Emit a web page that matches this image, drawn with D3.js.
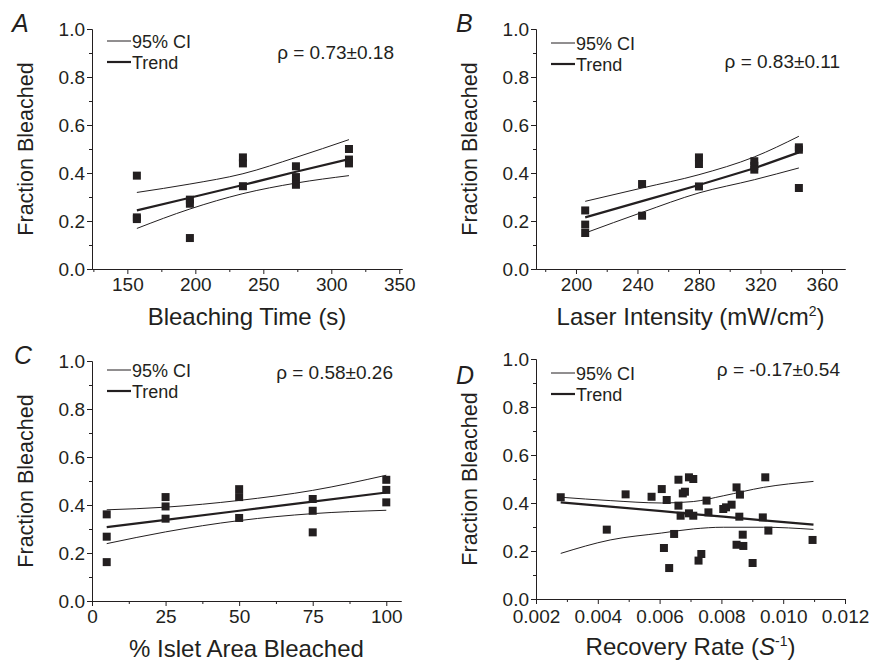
<!DOCTYPE html>
<html>
<head>
<meta charset="utf-8">
<script src="https://cdn.jsdelivr.net/npm/d3@7"></script>
<style>
  body { margin: 0; background: #fff; }
  text { font-family: "Liberation Sans", Arial, Helvetica, sans-serif; fill: #231f20; }
</style>
</head>
<body>
<svg id="chart" width="887" height="665"></svg>
<script>
// panel A: bleaching time
var a_time = [157, 157, 157, 196, 196, 196, 235, 235, 235, 274, 274, 274, 313, 313, 313];
var a_frac = [0.389, 0.215, 0.208, 0.289, 0.272, 0.129, 0.465, 0.44, 0.345, 0.428, 0.383, 0.351, 0.50, 0.456, 0.44];
var a_fit_x = [157, 196, 235, 274, 313];
var a_trend = [0.244, 0.297, 0.35, 0.405, 0.458];
var a_ci_hi = [0.319, 0.354, 0.397, 0.465, 0.539];
var a_ci_lo = [0.169, 0.25, 0.314, 0.358, 0.389];

// panel B: laser intensity
var b_power = [206, 206, 206, 243, 243, 280, 280, 280, 316, 316, 316, 345, 345, 345];
var b_frac = [0.244, 0.185, 0.15, 0.354, 0.222, 0.465, 0.4375, 0.344, 0.449, 0.43, 0.414, 0.507, 0.497, 0.3375];
var b_fit_x = [206, 243, 280, 316, 345];
var b_trend = [0.215, 0.283, 0.35, 0.42, 0.486];
var b_ci_hi = [0.282, 0.3375, 0.393, 0.467, 0.553];
var b_ci_lo = [0.15, 0.236, 0.317, 0.372, 0.421];

// panel C: islet area bleached
var c_area = [5, 5, 5, 25, 25, 25, 50, 50, 50, 75, 75, 75, 100, 100, 100];
var c_frac = [0.361, 0.268, 0.162, 0.433, 0.394, 0.343, 0.466, 0.433, 0.346, 0.425, 0.376, 0.286, 0.505, 0.463, 0.411];
var c_fit_x = [5, 25, 50, 75, 100];
var c_trend = [0.308, 0.338, 0.376, 0.414, 0.452];
var c_ci_hi = [0.38, 0.391, 0.419, 0.461, 0.524];
var c_ci_lo = [0.239, 0.288, 0.335, 0.364, 0.378];

// panel D: recovery rate
var d_rate = [0.0028, 0.00429, 0.0049, 0.00574, 0.00607, 0.00623, 0.00614, 0.00631, 0.00647, 0.00661,
              0.00661, 0.00668, 0.00675, 0.00682, 0.00695, 0.00709, 0.00695, 0.00709, 0.00726, 0.00735,
              0.00752, 0.00758, 0.00806, 0.00815, 0.00833, 0.00849, 0.0086, 0.00858, 0.00849, 0.00871,
              0.00869, 0.00901, 0.00934, 0.00942, 0.00952, 0.01095];
var d_frac = [0.424, 0.289, 0.436, 0.426, 0.458, 0.4125, 0.2125, 0.129, 0.271, 0.497,
              0.389, 0.347, 0.44, 0.447, 0.507, 0.5, 0.357, 0.347, 0.16, 0.1875,
              0.41, 0.361, 0.375, 0.382, 0.393, 0.465, 0.435, 0.343, 0.226, 0.221,
              0.268, 0.15, 0.34, 0.507, 0.285, 0.246];
var d_fit_x = [0.0028, 0.0044, 0.00607, 0.00709, 0.00806, 0.00936, 0.01098];
var d_trend = [0.403, 0.385, 0.366, 0.354, 0.343, 0.328, 0.31];
var d_ci_hi = [0.424, 0.41, 0.4, 0.406, 0.43, 0.465, 0.49];
var d_ci_lo = [0.19, 0.246, 0.275, 0.292, 0.299, 0.299, 0.29];

// shared y axis
var y_ticks = [0, 0.2, 0.4, 0.6, 0.8, 1.0];
var y_minor = [0.1, 0.3, 0.5, 0.7, 0.9];

var svg = d3.select("#chart");
svg.append("rect").attr("width", 887).attr("height", 665).attr("fill", "#fff");

function draw_panel(p) {
  var x = d3.scaleLinear().domain(p.xdomain).range([p.left, p.right]);
  var y = d3.scaleLinear().domain([0, 1]).range([p.bottom, p.top]);
  var g = svg.append("g");

  // minor ticks first, no labels
  g.append("g")
      .attr("transform", "translate(0," + p.bottom + ")")
      .call(d3.axisBottom(x).tickValues(p.xminor).tickSize(3).tickSizeOuter(0).tickFormat(""));
  g.append("g")
      .attr("transform", "translate(" + p.left + ",0)")
      .call(d3.axisLeft(y).tickValues(y_minor).tickSize(3).tickSizeOuter(0).tickFormat(""));

  // major axes
  g.append("g")
      .attr("transform", "translate(0," + p.bottom + ")")
      .call(d3.axisBottom(x).tickValues(p.xticks).tickSize(5).tickSizeOuter(0).tickPadding(p.xpad)
            .tickFormat(d3.format(p.xfmt)));
  g.append("g")
      .attr("transform", "translate(" + p.left + ",0)")
      .call(d3.axisLeft(y).tickValues(y_ticks).tickSize(5).tickSizeOuter(0).tickPadding(2)
            .tickFormat(d3.format(".1f")));
  g.selectAll(".tick text").attr("font-size", 19).attr("font-family", null).attr("fill", "#231f20");
  g.selectAll(".domain, .tick line").attr("stroke", "#231f20");

  // axis titles
  g.append("text")
      .attr("transform", "translate(" + (p.left - 59) + "," + ((p.top + p.bottom) / 2) + ") rotate(-90)")
      .attr("text-anchor", "middle")
      .attr("font-size", 21.5)
      .text("Fraction Bleached");
  var xt = g.append("text")
      .attr("x", (p.left + p.right) / 2)
      .attr("y", p.bottom + 56)
      .attr("text-anchor", "middle")
      .attr("font-size", 24);
  p.xtitle(xt);

  // confidence band edges and trend
  var fit = p.fit_x.map(function(d, i) {
    return {x: d, t: p.trend[i], hi: p.ci_hi[i], lo: p.ci_lo[i]};
  });
  var ci_hi = d3.line().x(function(d) { return x(d.x); }).y(function(d) { return y(d.hi); }).curve(d3.curveMonotoneX);
  var ci_lo = d3.line().x(function(d) { return x(d.x); }).y(function(d) { return y(d.lo); }).curve(d3.curveMonotoneX);
  var trend = d3.line().x(function(d) { return x(d.x); }).y(function(d) { return y(d.t); });
  g.append("path").attr("d", ci_hi(fit)).attr("fill", "none").attr("stroke", "#231f20").attr("stroke-width", 1);
  g.append("path").attr("d", ci_lo(fit)).attr("fill", "none").attr("stroke", "#231f20").attr("stroke-width", 1);
  g.append("path").attr("d", trend(fit)).attr("fill", "none").attr("stroke", "#231f20").attr("stroke-width", 2.2);

  // square markers
  var pts = p.xs.map(function(d, i) { return {x: d, y: p.ys[i]}; });
  g.selectAll(".pt")
      .data(pts)
    .enter().append("rect")
      .attr("class", "pt")
      .attr("x", function(d) { return x(d.x) - 4; })
      .attr("y", function(d) { return y(d.y) - 4; })
      .attr("width", 8)
      .attr("height", 8)
      .attr("fill", "#231f20");

  // legend
  var lx = p.left + 15, ly = p.top + p.leg_dy;
  g.append("line").attr("x1", lx).attr("x2", lx + 24).attr("y1", ly).attr("y2", ly)
      .attr("stroke", "#231f20").attr("stroke-width", 1);
  g.append("text").attr("x", lx + 25).attr("y", ly + 6.5).attr("font-size", 18).text("95% CI");
  g.append("line").attr("x1", lx).attr("x2", lx + 24).attr("y1", ly + 21).attr("y2", ly + 21)
      .attr("stroke", "#231f20").attr("stroke-width", 2.2);
  g.append("text").attr("x", lx + 25).attr("y", ly + 27.5).attr("font-size", 18).text("Trend");

  // correlation
  g.append("text")
      .attr("x", p.right - p.rho_dx)
      .attr("y", p.top + p.rho_dy)
      .attr("text-anchor", "end")
      .attr("font-size", 19)
      .text(p.rho);

  // panel letter
  g.append("text")
      .attr("x", p.lx)
      .attr("y", p.ly)
      .attr("font-size", 25)
      .attr("font-style", "italic")
      .text(p.letter);
}

draw_panel({
  letter: "A", lx: 12, ly: 32,
  left: 92, right: 402, top: 29, bottom: 269,
  xdomain: [124, 352], xticks: [150, 200, 250, 300, 350], xminor: [125, 175, 225, 275, 325], xfmt: "d", xpad: 4,
  xs: a_time, ys: a_frac, fit_x: a_fit_x, trend: a_trend, ci_hi: a_ci_hi, ci_lo: a_ci_lo,
  leg_dy: 12, rho_dy: 30, rho_dx: 8, rho: "\u03c1 = 0.73\u00b10.18",
  xtitle: function(t) { t.text("Bleaching Time (s)"); }
});

draw_panel({
  letter: "B", lx: 456, ly: 32,
  left: 536, right: 845, top: 29, bottom: 269,
  xdomain: [174, 375], xticks: [200, 240, 280, 320, 360], xminor: [180, 220, 260, 300, 340], xfmt: "d", xpad: 4,
  xs: b_power, ys: b_frac, fit_x: b_fit_x, trend: b_trend, ci_hi: b_ci_hi, ci_lo: b_ci_lo,
  leg_dy: 14, rho_dy: 39, rho_dx: 5, rho: "\u03c1 = 0.83\u00b10.11",
  xtitle: function(t) {
    t.append("tspan").text("Laser Intensity (mW/cm");
    t.append("tspan").attr("font-size", 14).attr("dy", -9).text("2");
    t.append("tspan").attr("dy", 9).text(")");
  }
});

draw_panel({
  letter: "C", lx: 14, ly: 364,
  left: 92, right: 401, top: 361, bottom: 601,
  xdomain: [0, 105], xticks: [0, 25, 50, 75, 100], xminor: [12.5, 37.5, 62.5, 87.5], xfmt: "d", xpad: 4,
  xs: c_area, ys: c_frac, fit_x: c_fit_x, trend: c_trend, ci_hi: c_ci_hi, ci_lo: c_ci_lo,
  leg_dy: 9, rho_dy: 18, rho_dx: 8, rho: "\u03c1 = 0.58\u00b10.26",
  xtitle: function(t) { t.text("% Islet Area Bleached"); }
});

draw_panel({
  letter: "D", lx: 456, ly: 384,
  left: 536, right: 845, top: 359, bottom: 599,
  xdomain: [0.002, 0.012], xticks: [0.002, 0.004, 0.006, 0.008, 0.010, 0.012],
  xminor: [0.003, 0.005, 0.007, 0.009, 0.011], xfmt: ".3f", xpad: 6,
  xs: d_rate, ys: d_frac, fit_x: d_fit_x, trend: d_trend, ci_hi: d_ci_hi, ci_lo: d_ci_lo,
  leg_dy: 14, rho_dy: 17, rho_dx: 5, rho: "\u03c1 = -0.17\u00b10.54",
  xtitle: function(t) {
    t.append("tspan").text("Recovery Rate (");
    t.append("tspan").attr("font-style", "italic").text("S");
    t.append("tspan").attr("font-size", 14).attr("dy", -9).text("-1");
    t.append("tspan").attr("dy", 9).text(")");
  }
});
</script>
</body>
</html>
